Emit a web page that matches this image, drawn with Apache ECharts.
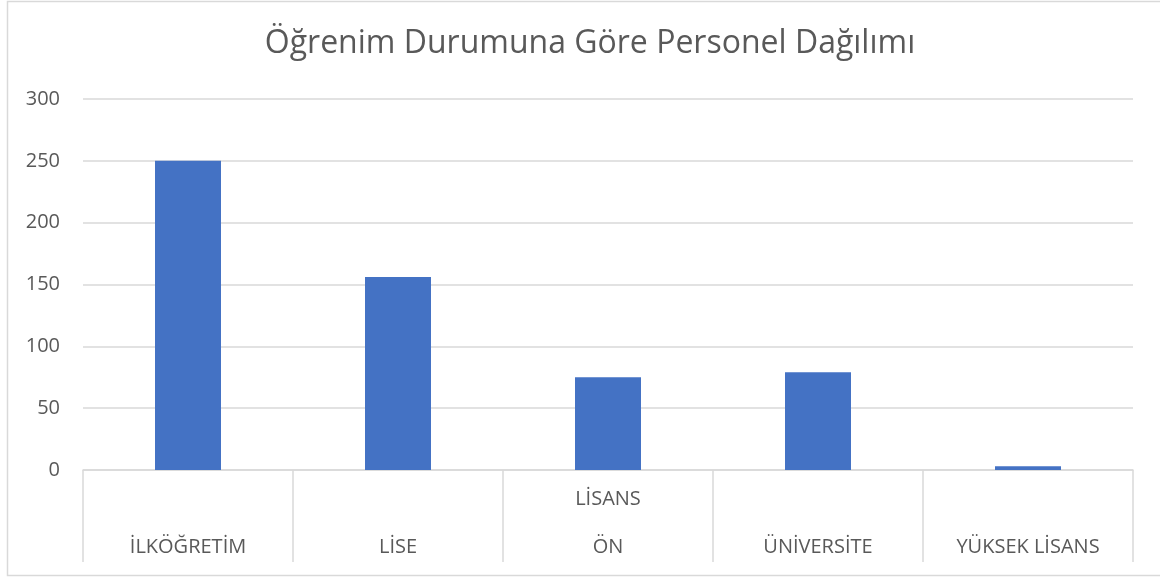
<!DOCTYPE html>
<html>
<head>
<meta charset="utf-8">
<script src="https://cdn.jsdelivr.net/npm/echarts@6/dist/echarts.min.js"></script>
<style>html,body{margin:0;padding:0;background:#fff;}#c{width:1160px;height:578px;}</style>
</head>
<body>
<div id="c"></div>
<script>
const titleText = 'Öğrenim Durumuna Göre Personel Dağılımı';
const categories = ['İLKÖĞRETİM', 'LİSE', 'ÖN LİSANS', 'ÜNİVERSİTE', 'YÜKSEK LİSANS'];
const labelLines = [['İLKÖĞRETİM'], ['LİSE'], ['LİSANS', '', 'ÖN'], ['ÜNİVERSİTE'], ['YÜKSEK LİSANS']];
const values = [250, 156, 75, 79, 3];
const yTicks = { min: 0, max: 300, interval: 50 };

const chart = echarts.init(document.getElementById('c'));
const font = '"Open Sans", "Noto Sans", sans-serif';
chart.setOption({
  backgroundColor: '#fff',
  animation: false,
  graphic: [{
    type: 'rect', silent: true, z: -1,
    shape: { x: 7.5, y: 1.5, width: 1200, height: 574 },
    style: { fill: 'none', stroke: '#d9d9d9', lineWidth: 1.5 }
  }],
  title: {
    text: titleText, left: 585, textAlign: 'center', top: 23,
    textStyle: { fontFamily: font, fontSize: 32, fontWeight: 'normal', color: '#595959' }
  },
  grid: { left: 83, right: 27, top: 99, bottom: 108, containLabel: false },
  xAxis: {
    type: 'category', data: categories,
    axisLine: { lineStyle: { color: '#d9d9d9', width: 1.5 } },
    axisTick: { show: true, length: 92, lineStyle: { color: '#d9d9d9', width: 1.5 } },
    axisLabel: {
      interval: 0, margin: 89, verticalAlign: 'bottom', lineHeight: 24,
      fontFamily: font, fontSize: 20, color: '#595959',
      formatter: (v, i) => labelLines[i].join('\n')
    }
  },
  yAxis: {
    type: 'value', min: yTicks.min, max: yTicks.max, interval: yTicks.interval,
    axisLine: { show: false }, axisTick: { show: false },
    splitLine: { lineStyle: { color: '#d9d9d9', width: 1.5 } },
    axisLabel: { margin: 23, fontFamily: font, fontSize: 20, color: '#595959' }
  },
  series: [{
    type: 'bar', data: values, barWidth: 66,
    itemStyle: { color: '#4472C4' }
  }]
});
</script>
</body>
</html>
